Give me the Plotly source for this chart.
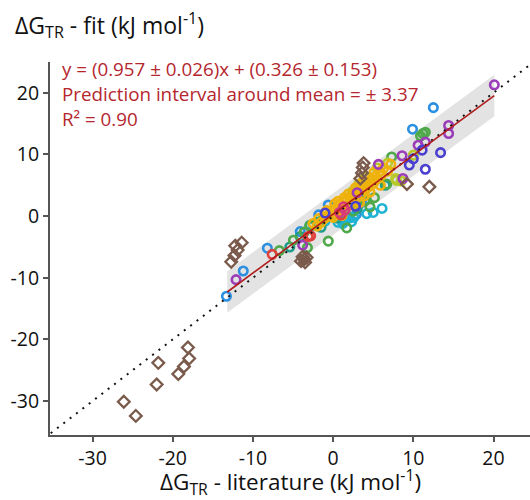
import plotly.graph_objects as go

# ---- data ----
blue_x = [-13.3, -11.2, -8.2, -4.1, -1.8, -0.6, 3.4, 3.6, 9.9, 12.5, 0.9, 2.2, 2.9]
blue_y = [-13.0, -8.9, -5.2, -2.5, 0.2, 1.8, 2.1, 2.6, 14.1, 17.6, -0.1, 1.0, 0.3]

cyan_x = [1.0, 1.5, 2.0, 2.3, 1.2, 1.8, 2.6, 4.2, 5.0, 6.1, -2.5, -1.0, 0.6, 1.4]
cyan_y = [-0.5, -0.8, -0.3, -0.9, -1.2, 0.0, -0.2, 0.4, 0.6, 1.25, -1.5, -0.8, -1.0, -0.2]

teal_x = [-5.4, -4.1, -2.9, -2.0, 6.5, 0.5, 3.0, -1.5]
teal_y = [-5.0, -3.3, -1.5, -1.0, 5.0, -0.3, 1.2, -1.8]

green_x = [-6.7, -4.95, -3.2, -2.9, -0.6, 1.7, 4.6, 5.15, 6.7, 7.3, 11.2, 11.5, 10.9, 2.5, 4.0, -3.6, -1.2]
green_y = [-5.6, -3.9, -5.1, -1.6, -4.05, -1.9, 1.5, 3.0, 5.2, 9.6, 13.4, 13.6, 13.0, 0.8, 2.5, -2.6, -0.4]

lime_x = [7.8, 8.5, 7.9, 10.0, 5.5, 4.0, 6.8, 3.2, 2.4]
lime_y = [6.1, 5.7, 5.8, 9.9, 7.8, 6.3, 8.6, 5.2, 4.0]

gold_x = [-1.5, -1.0, -0.5, -0.2, 0.0, 0.3, 0.5, 0.8, 1.0, 1.2, 1.5, 1.7, 2.0, 2.2, 2.5, 2.7,
          3.0, 3.2, 3.5, 3.7, 4.0, 4.2, 4.5, 4.8, 5.0, 5.3, 5.5, 5.8, 6.0, 6.3, -2.0, -2.5,
          2.8, 3.8, 1.4, 0.2, -1.8, -0.8, 0.6, 1.9, 3.3, 4.6, 5.9, 6.8, 7.2, 2.4, 3.9, 5.1,
          -0.3, 1.1]
gold_y = [-1.0, -0.3, 0.3, 0.8, -0.2, 1.2, 0.5, 1.8, 1.0, 2.3, 1.6, 2.8, 2.0, 3.2, 2.5, 3.8,
          3.0, 4.3, 3.5, 4.8, 4.2, 5.5, 4.8, 6.0, 5.3, 6.5, 6.0, 7.2, 6.6, 7.8, -1.6, -1.2,
          4.6, 5.7, 3.0, 2.0, -0.4, 0.9, 2.4, 3.6, 2.2, 3.9, 5.0, 7.3, 8.4, 1.8, 3.3, 7.1,
          0.0, 0.1]

purple_x = [-12.1, -3.8, 5.65, 8.6, 8.7, 10.6, 11.5, 14.4, 14.4, 20.1, 3.0]
purple_y = [-10.3, -4.7, 8.4, 9.8, 6.1, 11.5, 12.0, 14.7, 13.4, 21.3, 3.8]

indigo_x = [11.1, 13.4, 11.5, 9.5, 10.0, 2.8, -1.0]
indigo_y = [10.7, 10.3, 7.6, 8.3, 9.3, 1.6, 0.5]

red_x = [-7.6, -2.8, -3.1, 1.0]
red_y = [-6.2, -3.2, -3.3, 0.2]

magenta_x = [1.5, 1.3, 0.8]
magenta_y = [1.0, 1.5, 0.6]

brown_x = [-18.1, -17.95, -18.6, -19.3, -21.8, -22.0, -26.1, -24.6,
           -11.4, -12.2, -11.9, -12.3, -12.7,
           -4.0, -3.6, -3.3, -3.8, -3.5,
           3.8, 3.7, 3.6, 3.4, 9.2, 12.0]
brown_y = [-21.3, -23.1, -24.4, -25.6, -23.8, -27.3, -30.1, -32.4,
           -4.3, -4.8, -5.5, -6.4, -7.4,
           -7.3, -7.0, -6.7, -6.6, -7.5,
           8.6, 7.9, 7.0, 6.1, 5.2, 4.75]

slope = 0.957
intercept = 0.326
pred_half = 3.37
fit_x = [-13.2, 20.1]
diag_x = [-36, 26]

tick_vals = [-30, -20, -10, 0, 10, 20]
tick_text = ["-30", "-20", "-10", "0", "10", "20"]

fit_lines = ["y = (0.957 ± 0.026)x + (0.326 ± 0.153)",
             "Prediction interval around mean = ± 3.37",
             "R² = 0.90"]

FONT = "Open Sans"

fig = go.Figure()

# prediction band
band_x = fit_x + fit_x[::-1]
band_y = [slope * v + intercept + pred_half for v in fit_x] + \
         [slope * v + intercept - pred_half for v in fit_x[::-1]]
fig.add_trace(go.Scatter(x=band_x, y=band_y, fill="toself", fillcolor="#e3e3e3",
                         line=dict(width=0), mode="lines", hoverinfo="skip"))

groups = [
    (blue_x, blue_y, "#2b8fe2"),
    (cyan_x, cyan_y, "#1fb3d3"),
    (teal_x, teal_y, "#1f9c8a"),
    (green_x, green_y, "#4fa84a"),
    (lime_x, lime_y, "#b7c92b"),
    (gold_x, gold_y, "#efb20c"),
    (purple_x, purple_y, "#9b3db8"),
    (indigo_x, indigo_y, "#4b3fcf"),
    (red_x, red_y, "#e0413d"),
    (magenta_x, magenta_y, "#d83a7c"),
]
for gx, gy, col in groups:
    fig.add_trace(go.Scatter(x=gx, y=gy, mode="markers",
                             marker=dict(symbol="circle-open", size=8.5, color=col,
                                         line=dict(width=2.6, color=col))))

fig.add_trace(go.Scatter(x=brown_x, y=brown_y, mode="markers",
                         marker=dict(symbol="diamond-open", size=9, color="#7a5a4b",
                                     line=dict(width=2.3, color="#7a5a4b"))))

# y = x dotted
fig.add_trace(go.Scatter(x=diag_x, y=diag_x, mode="lines",
                         line=dict(color="#111111", width=2, dash="2px,6px")))
# fit line
fig.add_trace(go.Scatter(x=fit_x, y=[slope * v + intercept for v in fit_x], mode="lines",
                         line=dict(color="#b01c1c", width=1.6)))

axis_common = dict(showgrid=False, zeroline=False, showline=True, linecolor="#555555",
                   linewidth=2, ticks="outside", ticklen=5, tickwidth=1.5, tickcolor="#555555",
                   tickvals=tick_vals, ticktext=tick_text,
                   tickfont=dict(size=19.5, color="#111111", family=FONT))

annots = [
    dict(text="ΔG<sub>TR</sub> - fit (kJ mol<sup>-1</sup>)", xref="paper", yref="paper",
         x=-0.077, y=1.1, xanchor="left", yanchor="middle", showarrow=False,
         font=dict(size=23, color="#111111", family=FONT)),
    dict(text="ΔG<sub>TR</sub> - literature (kJ mol<sup>-1</sup>)", xref="paper", yref="paper",
         x=0.5, y=-0.127, xanchor="center", yanchor="middle", showarrow=False,
         font=dict(size=22.5, color="#111111", family=FONT)),
]
line_y = [0.982, 0.915, 0.848]
for txt, yy in zip(fit_lines, line_y):
    annots.append(dict(text=txt, xref="paper", yref="paper", x=0.021, y=yy,
                       xanchor="left", yanchor="middle", showarrow=False,
                       font=dict(size=18.8, color="#b5262e", family=FONT)))

fig.update_layout(
    width=530, height=500,
    margin=dict(l=50, r=0, t=62, b=65),
    plot_bgcolor="white", paper_bgcolor="white",
    showlegend=False,
    xaxis=dict(range=[-35.3, 24.55], **axis_common),
    yaxis=dict(range=[-35.5, 25], **axis_common),
    annotations=annots,
)

fig.write_html("out.html")
